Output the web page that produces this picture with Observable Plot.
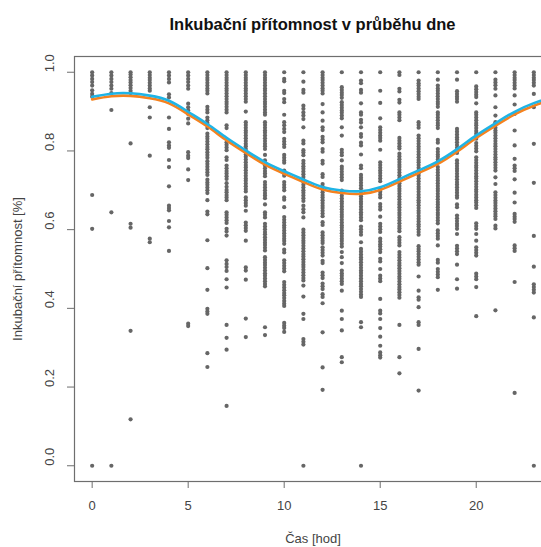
<!DOCTYPE html>
<html>
<head>
<meta charset="utf-8">
<script src="https://cdn.jsdelivr.net/npm/d3@7"></script>
<script src="https://cdn.jsdelivr.net/npm/@observablehq/plot@0.6"></script>
<style>
  html, body { margin: 0; padding: 0; background: #fff; overflow: hidden; width: 541px; height: 547px; }
  #wrap { position: relative; width: 560px; }
  #title { width: 625px; height: 44px; line-height: 48px; text-align: center;
           font-family: "Liberation Sans", Arial, sans-serif; font-weight: bold; font-size: 16.5px; color: #111; }
  svg { display: block; }
</style>
</head>
<body>
<div id="wrap">
  <div id="title">Inkubační přítomnost v průběhu dne</div>
  <div id="chart"></div>
</div>
<script>
// ---- data ----
const titleText = "Inkubační přítomnost v průběhu dne";
const xLabel = "Čas [hod]";
const yLabel = "Inkubační přítomnost [%]";
const xTicks = [0, 5, 10, 15, 20];
const yTicks = [0.0, 0.2, 0.4, 0.6, 0.8, 1.0];

const hours = [0,1,2,3,4,5,6,7,8,9,10,11,12,13,14,15,16,17,18,19,20,21,22,23];

const h0 = [1.0,0.992,0.983,0.975,0.966,0.954,0.945,0.938,0.688,0.602,0.0];
const h1 = [1.0,0.992,0.983,0.975,0.966,0.958,0.947,0.904,0.644,0.0];
const h2 = [1.0,0.994,0.987,0.980,0.974,0.967,0.960,0.953,0.947,0.819,0.615,0.605,0.343,0.118];
const h3 = [1.0,0.993,0.986,0.980,0.973,0.966,0.959,0.953,0.911,0.885,0.788,0.577,0.568];
const h4 = [1.0,0.992,0.983,0.974,0.944,0.936,0.885,0.856,0.822,0.814,0.808,0.777,0.759,0.710,0.661,0.655,0.649,0.622,0.606,0.546];
const h5 = [1.0,0.992,0.983,0.975,0.966,0.958,0.920,0.911,0.903,0.894,0.882,0.870,0.797,0.788,0.782,0.753,0.726,0.361,0.355];
const h6 = [1.0,0.993,0.986,0.980,0.973,0.966,0.959,0.953,0.946,0.912,0.905,0.898,0.885,0.878,0.871,0.865,0.858,
            0.844,0.837,0.831,0.824,0.817,0.810,0.804,0.797,0.790,0.783,0.774,0.767,0.760,0.753,0.746,0.739,
            0.727,0.720,0.714,0.707,0.700,0.693,0.675,0.646,0.639,0.573,0.502,0.447,0.399,0.392,0.386,0.286,0.251];
const h7 = [1.0,0.993,0.986,0.980,0.973,0.966,0.959,0.953,0.946,0.939,0.932,0.925,0.919,0.912,0.905,0.898,
            0.865,0.858,0.822,0.816,0.809,0.802,0.784,0.777,0.763,0.756,0.749,0.743,0.736,0.729,0.718,0.709,0.701,
            0.695,0.688,0.682,0.675,0.644,0.638,0.631,0.624,0.617,0.602,0.595,0.585,0.522,0.513,0.505,0.495,
            0.474,0.453,0.358,0.325,0.295,0.152];
const h8 = [1.0,0.993,0.986,0.980,0.973,0.966,0.959,0.953,0.946,0.939,0.932,0.925,0.900,
            0.873,0.866,0.859,0.852,0.846,0.839,0.832,0.825,0.818,0.812,0.805,0.798,0.791,0.785,0.778,0.771,
            0.764,0.758,0.751,0.744,0.737,0.730,0.724,0.717,0.710,0.703,0.697,0.682,0.675,0.668,0.661,0.648,
            0.618,0.611,0.604,0.597,0.572,0.504,0.496,0.473,0.374,0.327];
const h9 = [1.0,0.993,0.986,0.980,0.973,0.966,0.959,0.953,0.946,0.939,0.932,0.925,0.919,0.912,0.905,0.898,0.892,
            0.873,0.866,0.859,0.852,0.846,0.839,0.832,0.825,0.818,0.812,0.805,0.790,0.776,
            0.763,0.756,0.749,0.743,0.736,0.721,0.714,0.707,0.700,0.693,0.687,0.680,0.664,0.644,0.638,0.631,
            0.615,0.608,0.601,0.594,0.588,0.581,0.574,0.567,0.561,0.554,0.547,
            0.530,0.523,0.516,0.510,0.503,0.496,0.489,0.483,0.476,0.469,0.462,0.456,0.352,0.332];
const h10 = [1.0,0.983,0.977,0.953,0.947,0.932,0.924,0.892,0.873,0.865,0.856,0.848,0.831,0.824,0.817,0.810,
             0.790,0.783,0.776,0.770,0.750,0.743,0.737,0.721,0.714,0.707,0.700,0.682,0.676,0.657,
             0.632,0.625,0.618,0.611,0.605,0.598,0.591,0.584,0.577,0.571,0.564,0.549,0.542,
             0.522,0.515,0.508,0.501,0.494,0.467,0.460,0.453,0.446,0.439,0.433,0.426,0.419,0.412,0.406,
             0.363,0.356,0.350,0.340];
const h11 = [1.0,0.976,0.955,0.948,0.915,0.907,0.898,0.890,0.881,0.860,0.826,0.819,0.802,0.796,0.789,
             0.775,0.768,0.761,0.755,0.748,0.741,0.734,0.727,0.721,0.714,0.707,0.700,0.694,0.687,0.680,0.673,
             0.661,0.652,0.644,0.631,0.600,0.593,0.586,0.579,0.572,0.566,0.559,0.552,0.545,0.538,0.532,0.525,
             0.518,0.511,0.505,0.498,0.491,0.484,0.477,0.471,0.458,0.430,0.386,0.373,0.322,0.315,0.308,0.0];
const h12 = [1.0,0.993,0.986,0.980,0.973,0.966,0.959,0.953,0.946,0.919,0.898,0.877,0.860,0.853,0.836,0.829,0.822,
             0.805,0.798,0.775,0.768,0.741,0.734,0.716,0.709,0.702,0.695,0.688,0.682,0.675,0.668,0.661,0.655,
             0.648,0.641,0.634,0.619,0.612,0.593,0.586,0.579,0.572,0.566,0.555,0.548,0.541,0.534,0.521,0.515,
             0.491,0.484,0.477,0.463,0.456,0.449,0.436,0.429,0.413,0.339,0.250,0.193];
const h13 = [1.0,0.962,0.955,0.948,0.942,0.935,0.924,0.917,0.910,0.903,0.897,0.890,0.883,0.860,0.839,
             0.803,0.796,0.789,0.776,0.760,0.754,0.747,0.740,0.733,0.726,
             0.699,0.693,0.686,0.679,0.672,0.666,0.659,0.652,0.645,0.638,0.632,0.625,0.618,0.611,0.605,0.598,
             0.591,0.584,0.577,0.571,0.564,0.557,0.543,0.530,0.515,0.496,0.489,0.483,0.476,0.469,0.462,
             0.445,0.394,0.373,0.344,0.276,0.263];
const h14 = [1.0,0.979,0.972,0.955,0.948,0.921,0.898,0.892,0.879,0.872,0.860,0.843,0.836,0.821,0.814,0.791,
             0.763,0.756,0.739,0.732,0.726,0.719,0.712,0.705,0.698,0.692,0.685,0.678,0.671,0.665,0.658,0.651,
             0.644,0.638,0.631,0.624,0.608,0.601,0.594,0.587,0.568,0.551,0.544,0.537,0.530,0.524,0.517,0.510,
             0.503,0.496,0.490,0.483,0.476,0.469,0.462,0.456,0.449,0.442,0.435,0.429,0.365,0.352,0.0];
const h15 = [1.0,0.953,0.922,0.883,0.860,0.853,0.846,0.839,0.833,0.826,0.803,0.771,0.764,0.757,0.750,0.744,
             0.737,0.730,0.723,0.703,0.696,0.689,0.682,0.665,0.658,0.651,0.633,0.615,0.608,0.601,0.594,
             0.577,0.570,0.563,0.557,0.550,0.543,0.526,0.519,0.500,0.483,0.476,0.469,0.424,0.394,0.387,
             0.373,0.350,0.328,0.305,0.288,0.281,0.275];
const h16 = [1.0,0.993,0.958,0.951,0.930,0.923,0.898,0.892,0.885,0.878,0.833,0.826,0.819,0.812,0.806,
             0.793,0.786,0.779,0.772,0.765,0.759,0.752,0.745,0.738,0.731,0.725,0.718,0.711,0.704,0.698,0.691,
             0.684,0.677,0.670,0.664,0.657,0.650,0.643,0.637,0.630,0.623,0.616,0.609,0.603,0.596,
             0.581,0.574,0.567,0.560,0.543,0.536,0.529,0.522,0.515,0.509,0.502,0.495,0.488,0.481,0.475,0.468,
             0.461,0.454,0.448,0.441,0.434,0.427,0.358,0.276,0.235];
const h17 = [1.0,0.979,0.972,0.966,0.959,0.952,0.945,0.938,0.932,0.873,0.866,0.859,
             0.839,0.832,0.825,0.818,0.811,0.805,0.798,0.791,0.784,0.777,0.771,0.764,0.757,0.750,0.743,0.737,
             0.730,0.723,0.716,0.709,0.703,0.696,0.689,0.682,0.675,0.669,0.662,0.655,0.648,0.642,0.635,0.628,
             0.621,0.614,0.608,0.601,0.594,0.587,0.558,0.551,0.545,0.538,0.531,0.524,0.517,0.511,
             0.481,0.445,0.428,0.422,0.403,0.365,0.358,0.297,0.191];
const h18 = [1.0,0.981,0.966,0.959,0.953,0.946,0.939,0.932,0.925,0.919,0.912,0.898,0.892,0.885,0.878,0.871,
             0.865,0.858,0.828,0.821,0.805,0.798,0.791,0.785,0.778,0.771,0.759,0.752,0.745,0.738,0.731,0.725,
             0.718,0.711,0.704,0.698,0.691,0.684,0.677,0.670,0.664,0.657,0.650,0.643,0.637,0.630,0.623,0.616,
             0.598,0.591,0.584,0.577,0.560,0.523,0.516,0.500,0.493,0.486,0.479,0.447];
const h19 = [1.0,0.981,0.952,0.945,0.938,0.932,0.925,0.856,0.849,0.842,0.835,0.829,0.822,0.815,0.808,0.801,
             0.795,0.776,0.769,0.762,0.755,0.749,0.742,0.735,0.728,0.721,0.715,0.708,0.701,0.694,0.687,0.681,
             0.664,0.657,0.636,0.629,0.622,0.615,0.609,0.602,0.589,0.559,0.552,0.545,0.538,0.511,0.474,0.450];
const h20 = [1.0,0.964,0.957,0.950,0.943,0.937,0.921,0.898,0.892,0.885,0.878,0.871,0.865,0.858,0.851,0.844,
             0.837,0.831,0.820,0.813,0.806,0.799,0.784,0.777,0.770,0.763,0.757,0.750,0.743,0.736,0.730,0.723,
             0.716,0.709,0.702,0.696,0.689,0.682,0.675,0.669,0.662,0.655,0.616,0.609,0.602,0.589,0.572,
             0.555,0.548,0.541,0.534,0.488,0.481,0.474,0.454,0.380];
const h21 = [1.0,0.981,0.974,0.967,0.958,0.941,0.911,0.890,0.873,0.866,0.859,0.852,0.846,0.839,0.832,0.825,
             0.818,0.812,0.805,0.798,0.791,0.784,0.778,0.771,0.764,0.757,0.750,0.733,0.716,0.695,0.688,0.681,
             0.674,0.668,0.661,0.654,0.647,0.640,0.634,0.627,0.610,0.603,0.395];
const h22 = [1.0,0.993,0.986,0.980,0.973,0.966,0.959,0.941,0.918,0.894,0.852,0.814,0.780,0.763,0.756,0.749,
             0.728,0.694,0.669,0.640,0.633,0.627,0.620,0.560,0.553,0.546,0.467,0.185];
const h23 = [1.0,0.993,0.986,0.980,0.973,0.966,0.945,0.911,0.818,0.719,0.584,0.506,0.461,0.454,0.447,0.440,0.377,0.0];

const hourSeries = [h0,h1,h2,h3,h4,h5,h6,h7,h8,h9,h10,h11,h12,h13,h14,h15,h16,h17,h18,h19,h20,h21,h22,h23];

// fitted daily curves
const curveHours = [0,1,2,3,4,5,6,7,8,9,10,11,12,13,14,15,16,17,18,19,20,21,22,23,24];
const fitBlue   = [0.935,0.943,0.944,0.938,0.925,0.897,0.866,0.831,0.799,0.769,0.746,0.725,0.706,0.697,0.695,0.705,0.726,0.748,0.771,0.802,0.837,0.868,0.897,0.919,0.935];
const fitOrange = [0.931,0.939,0.940,0.934,0.921,0.893,0.862,0.827,0.795,0.765,0.742,0.721,0.702,0.693,0.691,0.701,0.722,0.744,0.767,0.798,0.833,0.864,0.893,0.915,0.931];

// ---- build tables ----
const points = hours.flatMap((h, i) => hourSeries[i].map(v => ({hour: h, value: v})));
const blueLine = curveHours.map((h, i) => ({hour: h, value: fitBlue[i]}));
const orangeLine = curveHours.map((h, i) => ({hour: h, value: fitOrange[i]}));

const font = "'Liberation Sans', Arial, sans-serif";
const axisGray = "#6e6e6e";
const textGray = "#444";

const chart = Plot.plot({
  width: 560,
  height: 503,
  marginLeft: 74,
  marginRight: 9,
  marginTop: 12,
  marginBottom: 66,
  style: {fontFamily: font, fontSize: "13px", color: textGray, background: "#fff"},
  x: {domain: [-0.92, 23.92], axis: null},
  y: {domain: [-0.04, 1.04], axis: null},
  marks: [
    Plot.dot(points, {x: "hour", y: "value", r: 2.1, fill: "#666", stroke: "none"}),
    Plot.line(orangeLine, {x: "hour", y: "value", stroke: "#f5821f", strokeWidth: 2.6, curve: "natural", clip: true}),
    Plot.line(blueLine, {x: "hour", y: "value", stroke: "#1fb4e6", strokeWidth: 2.6, curve: "natural", clip: true, dy: -1}),
    Plot.frame({stroke: axisGray, strokeWidth: 1.2}),
    Plot.axisX({ticks: xTicks, tickSize: 7, tickPadding: 12, stroke: axisGray, fill: textGray, label: xLabel,
                labelAnchor: "center", labelArrow: "none", labelOffset: 61, tickFormat: d => String(d)}),
    Plot.axisY({ticks: yTicks, tickSize: 7, stroke: axisGray, tickFormat: () => "", label: yLabel,
                labelAnchor: "center", labelArrow: "none", labelOffset: 62, fill: textGray}),
    Plot.text(yTicks, {y: d => d, text: d => d.toFixed(1), frameAnchor: "left", dx: -25, rotate: -90,
                       fill: textGray, fontSize: 13})
  ]
});
document.getElementById("chart").appendChild(chart);
</script>
</body>
</html>
